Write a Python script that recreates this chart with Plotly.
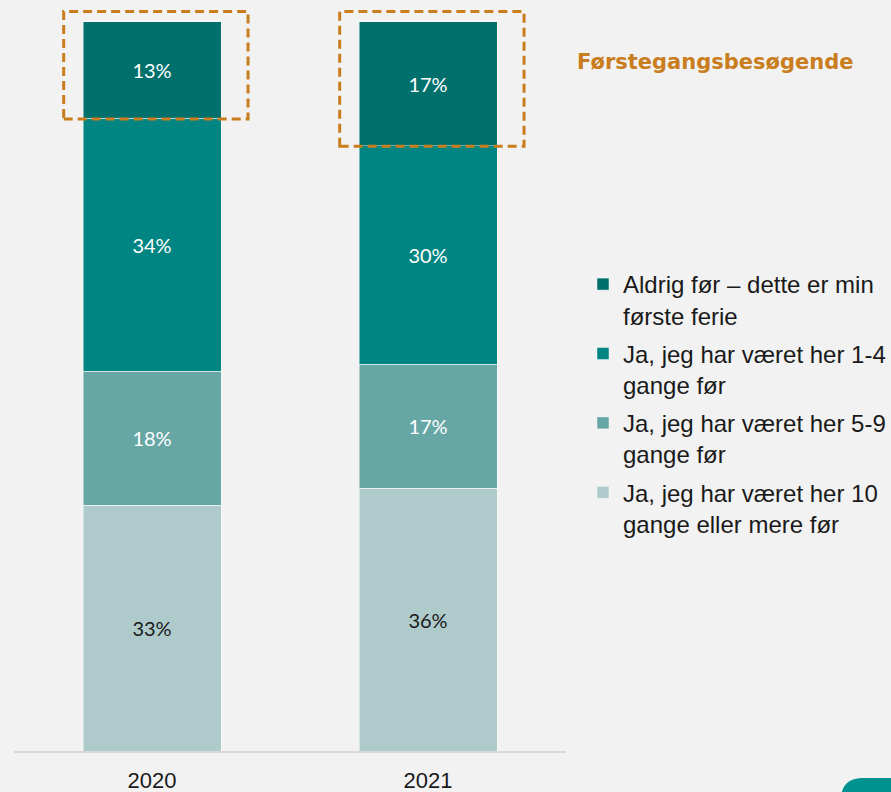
import plotly.graph_objects as go

years = ["2020", "2021"]
series_names = [
    "Ja, jeg har været her 10<br>gange eller mere før",
    "Ja, jeg har været her 5-9<br>gange før",
    "Ja, jeg har været her 1-4<br>gange før",
    "Aldrig før – dette er min<br>første ferie",
]
v_10plus = [33, 36]
v_5_9 = [18, 17]
v_1_4 = [34, 30]
v_never = [13, 17]
series_values = [v_10plus, v_5_9, v_1_4, v_never]
legend_ranks = [4, 3, 2, 1]
colors = ["#afcacb", "#66a7a5", "#008582", "#00706d"]
text_colors = ["#1a1a1a", "#ffffff", "#ffffff", "#ffffff"]
highlight_title = "Førstegangsbesøgende"

W, H = 891, 792
ML, MR, MT, MB = 14, 325, 7, 41
YMAX = 102

fig = go.Figure()
for i, (name, vals) in enumerate(zip(series_names, series_values)):
    fig.add_trace(go.Bar(
        x=years, y=vals, name=name,
        marker=dict(color=colors[i], line=dict(color="rgba(255,255,255,0.45)", width=1)),
        width=0.5,
        text=[f"{v}%" for v in vals],
        textposition="inside", insidetextanchor="middle",
        textfont=dict(family="Lato, Arial, sans-serif", size=20, color=text_colors[i]),
        legendgroup=f"g{i}", legendrank=legend_ranks[i],
        hoverinfo="skip",
    ))

# dashed highlight boxes around the top segment (first-time visitors)
for j in range(len(years)):
    total = sum(s[j] for s in series_values)
    bottom = 100 - v_never[j] / total * 100
    fig.add_shape(type="rect", xref="x", yref="y",
                  x0=j - 0.32, x1=j + 0.348, y0=bottom - 0.1, y1=101.4,
                  line=dict(color="#c97d1c", width=3, dash="9px,5px"),
                  fillcolor="rgba(0,0,0,0)", layer="above")

# decorative teal corner shape
pw, ph = W - ML - MR, H - MT - MB
def px(x):
    return (x - ML) / pw
def py(y):
    return (H - MB - y) / ph
r = 22
path = (f"M {px(841)},{py(800)} L {px(841)},{py(778 + r)} "
        f"Q {px(841)},{py(778)} {px(841 + r)},{py(778)} "
        f"L {px(900)},{py(778)} L {px(900)},{py(800)} Z")
fig.add_shape(type="path", xref="paper", yref="paper", path=path,
              fillcolor="#00928e", line=dict(width=0), layer="above")

fig.add_annotation(text=f"<b>{highlight_title}</b>", xref="paper", yref="paper",
                   x=px(575), y=py(62), xanchor="left", yanchor="middle",
                   showarrow=False,
                   font=dict(family="DejaVu Sans, Arial, sans-serif", size=21, color="#c97d1c"))

fig.update_layout(
    width=W, height=H,
    margin=dict(l=ML, r=MR, t=MT, b=MB, autoexpand=False),
    paper_bgcolor="#f2f2f2", plot_bgcolor="#f2f2f2",
    barmode="stack", barnorm="percent",
    showlegend=True,
    legend=dict(
        xref="container", yref="container",
        x=583 / W, y=1 - 262 / H, xanchor="left", yanchor="top",
        traceorder="grouped", tracegroupgap=4, valign="top",
        font=dict(family="Liberation Sans, Arial, sans-serif", size=24, color="#1a1a1a"),
        bgcolor="rgba(0,0,0,0)",
    ),
    xaxis=dict(
        range=[-0.5, 1.5], showgrid=False, zeroline=False, automargin=False,
        showline=True, linecolor="#d9d9d9", linewidth=2,
        ticks="", ticklabelstandoff=9,
        tickfont=dict(family="Liberation Sans Narrow, Liberation Sans, Arial, sans-serif", size=22, color="#1a1a1a"),
    ),
    yaxis=dict(range=[0, YMAX], visible=False, showgrid=False, zeroline=False, automargin=False),
)

fig.write_html(
    "out.html",
    config=dict(displayModeBar=False),
    post_script="document.body.style.margin='0';document.body.style.background='#f2f2f2';document.body.style.overflow='hidden';",
)
